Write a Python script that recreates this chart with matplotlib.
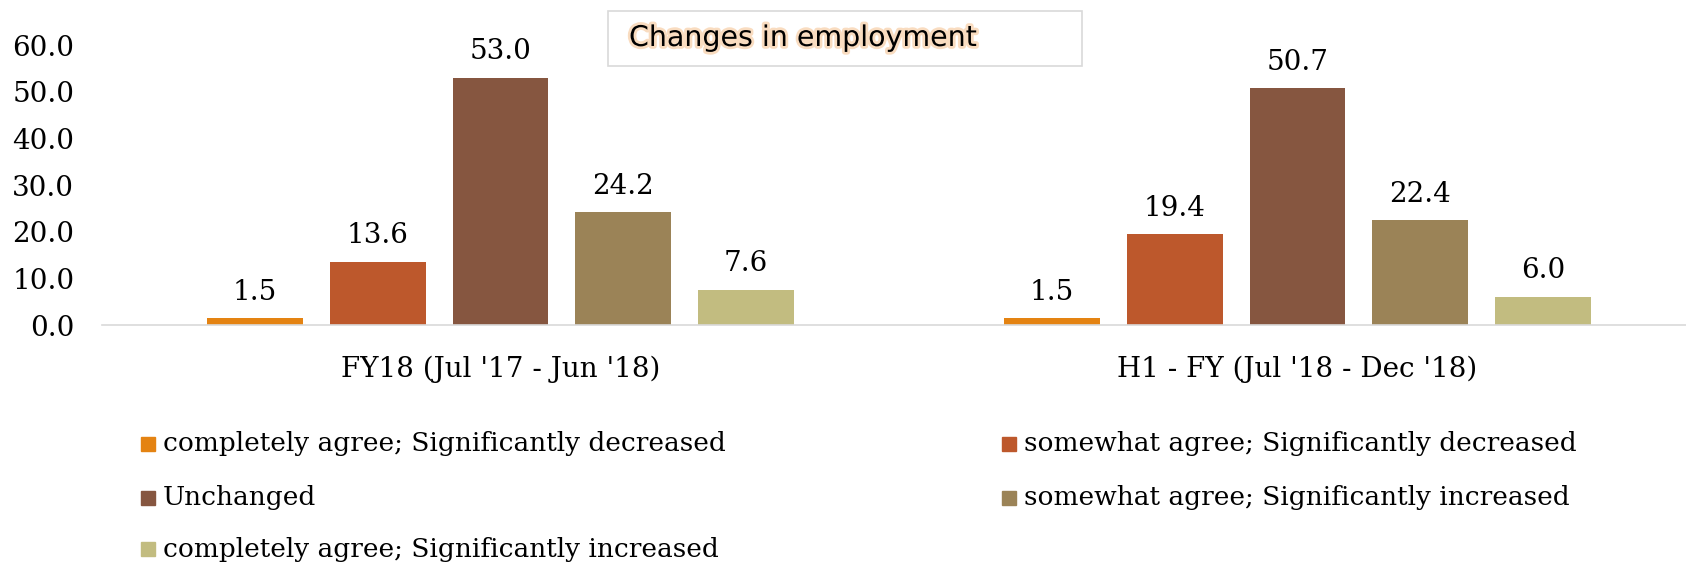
import matplotlib
matplotlib.use("Agg")
import matplotlib.pyplot as plt
import matplotlib.patheffects as pe
from matplotlib.patches import Rectangle
import numpy as np

# Survey results: changes in employment
periods = ["FY18 (Jul '17 - Jun '18)", "H1 - FY (Jul '18 - Dec '18)"]
responses = [
    "completely agree; Significantly decreased",
    "somewhat agree; Significantly decreased",
    "Unchanged",
    "somewhat agree; Significantly increased",
    "completely agree; Significantly increased",
]
fy18 = [1.5, 13.6, 53.0, 24.2, 7.6]
h1_fy19 = [1.5, 19.4, 50.7, 22.4, 6.0]
colors = ["#E48312", "#BD582C", "#865640", "#9B8357", "#C2BC80"]
yticks = [0, 10, 20, 30, 40, 50, 60]

plt.rcParams["font.family"] = ["DejaVu Serif"]
FS = 20       # axis and value labels
FS_LEG = 19   # legend entries

W, H = 1686, 562
fig = plt.figure(figsize=(W / 100, H / 100), dpi=100)
# axes runs a little past the right edge, like the original export
ax = fig.add_axes([102 / W, 1 - 325 / H, 1594 / W, 280 / H])

values = np.array([fy18, h1_fy19])
x = np.arange(len(periods))
step = 0.154
width = 0.12
for i, resp in enumerate(responses):
    pos = x + (i - 2) * step
    bars = ax.bar(pos, values[:, i], width, color=colors[i], label=resp, zorder=2)
    for b, v in zip(bars, values[:, i]):
        ax.annotate(f"{v:.1f}", (b.get_x() + b.get_width() / 2, v),
                    xytext=(0, 9), textcoords="offset points",
                    ha="center", va="bottom", fontsize=FS)

ax.set_xlim(-0.5, 1.5)
ax.set_ylim(0, 60)
ax.set_yticks(yticks)
ax.set_yticklabels([f"{t:.1f}" for t in yticks], fontsize=FS)
ax.set_xticks(x)
ax.set_xticklabels(periods, fontsize=FS)
ax.tick_params(axis="y", length=0, pad=20)
ax.tick_params(axis="x", length=0, pad=22)
for s in ["top", "right", "left"]:
    ax.spines[s].set_visible(False)
ax.spines["bottom"].set_color("#d9d9d9")
ax.spines["bottom"].set_linewidth(1.2)
ax.patch.set_alpha(0)

# legend, two columns filled row by row
cols_x = [141, 1002]
rows_y = [444, 498, 549]
for k, resp in enumerate(responses):
    cx = cols_x[k % 2]
    cy = rows_y[k // 2]
    fig.add_artist(Rectangle((cx / W, 1 - (cy + 7) / H), 14 / W, 14 / H,
                             transform=fig.transFigure, color=colors[k]))
    fig.text((cx + 22) / W, 1 - cy / H, resp, fontsize=FS_LEG, va="center", ha="left")

# title box
fig.add_artist(Rectangle((608 / W, 1 - 66 / H), 474 / W, 55 / H,
                         transform=fig.transFigure, facecolor="white",
                         edgecolor="#d9d9d9", linewidth=1.2))
fig.text(629 / W, 1 - 38 / H, "Changes in employment", fontsize=20.5,
         family="DejaVu Sans", va="center", ha="left",
         path_effects=[pe.withStroke(linewidth=4, foreground="#f9dcc0")])

fig.savefig("out.png", dpi=100)
